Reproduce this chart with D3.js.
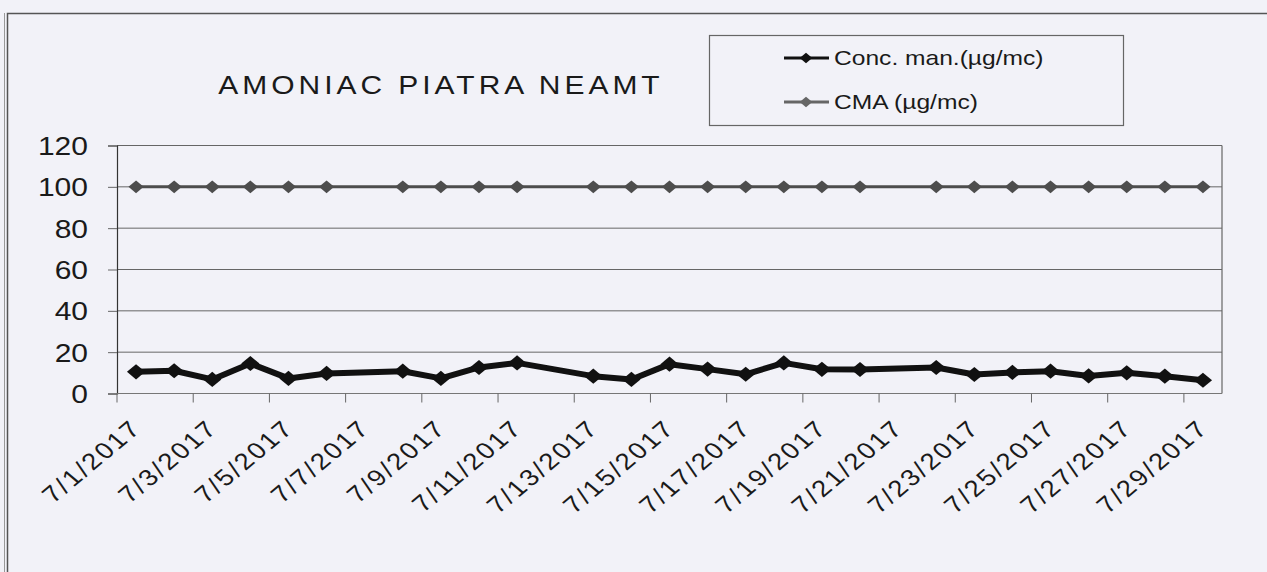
<!DOCTYPE html>
<html>
<head>
<meta charset="utf-8">
<script src="https://cdn.jsdelivr.net/npm/d3@7"></script>
<style>
  html, body { margin: 0; padding: 0; background: #f2f2f8; }
  svg text { font-family: "Liberation Sans", Arial, sans-serif; fill: #1a1a1a; }
</style>
</head>
<body>
<div id="chart"></div>
<script>
// DATA
const dates = [
  "7/1/2017", "7/2/2017", "7/3/2017", "7/4/2017", "7/5/2017", "7/6/2017", "7/7/2017",
  "7/8/2017", "7/9/2017", "7/10/2017", "7/11/2017", "7/12/2017", "7/13/2017", "7/14/2017",
  "7/15/2017", "7/16/2017", "7/17/2017", "7/18/2017", "7/19/2017", "7/20/2017", "7/21/2017",
  "7/22/2017", "7/23/2017", "7/24/2017", "7/25/2017", "7/26/2017", "7/27/2017", "7/28/2017",
  "7/29/2017"
];
const tickLabels = [
  "7/1/2017", "7/3/2017", "7/5/2017", "7/7/2017", "7/9/2017", "7/11/2017", "7/13/2017",
  "7/15/2017", "7/17/2017", "7/19/2017", "7/21/2017", "7/23/2017", "7/25/2017", "7/27/2017",
  "7/29/2017"
];
const measuredDates = [
  "7/1/2017", "7/2/2017", "7/3/2017", "7/4/2017", "7/5/2017", "7/6/2017",
  "7/8/2017", "7/9/2017", "7/10/2017", "7/11/2017", "7/13/2017", "7/14/2017",
  "7/15/2017", "7/16/2017", "7/17/2017", "7/18/2017", "7/19/2017", "7/20/2017",
  "7/22/2017", "7/23/2017", "7/24/2017", "7/25/2017", "7/26/2017", "7/27/2017",
  "7/28/2017", "7/29/2017"
];
const concValues = [
  10.5, 11, 6.8, 14.5, 7.3, 9.7,
  10.8, 7.3, 12.6, 14.8, 8.4, 6.8,
  14.2, 11.8, 9.3, 14.8, 11.7, 11.6,
  12.6, 9.2, 10.2, 10.8, 8.5, 10,
  8.4, 6.4
];
const cmaValues = [
  100, 100, 100, 100, 100, 100,
  100, 100, 100, 100, 100, 100,
  100, 100, 100, 100, 100, 100,
  100, 100, 100, 100, 100, 100,
  100, 100
];
const yTicks = [0, 20, 40, 60, 80, 100, 120];
const seriesNames = ["Conc. man.(\u00b5g/mc)", "CMA (\u00b5g/mc)"];
const title = "AMONIAC PIATRA NEAMT";

// LAYOUT
const W = 1267, H = 572;
const SX = 1.2; // the scan is stretched horizontally
const plot = { left: 117, right: 1222, top: 145.5, bottom: 393.5 };

const svg = d3.select("#chart").append("svg")
  .attr("width", W).attr("height", H);

svg.append("rect").attr("width", W).attr("height", H).attr("fill", "#f2f2f8");

// outer chart frame (double line on the left)
svg.append("rect")
  .attr("x", 7.5).attr("y", 13.5).attr("width", W + 20).attr("height", H + 20)
  .attr("fill", "none").attr("stroke", "#555").attr("stroke-width", 1.5);
svg.append("line")
  .attr("x1", 4.5).attr("x2", 4.5).attr("y1", 13).attr("y2", H)
  .attr("stroke", "#999").attr("stroke-width", 1);

const x = d3.scaleBand().domain(dates).range([plot.left, plot.right]);
const y = d3.scaleLinear().domain([0, 120]).range([plot.bottom, plot.top]);

// gridlines
svg.append("g")
  .selectAll("line")
  .data(yTicks.filter(d => d > 0))
  .enter()
  .append("line")
  .attr("x1", plot.left).attr("x2", plot.right)
  .attr("y1", d => y(d)).attr("y2", d => y(d))
  .attr("stroke", "#666").attr("stroke-width", 1);

// right border of plot area
svg.append("line")
  .attr("x1", plot.right).attr("x2", plot.right)
  .attr("y1", plot.top).attr("y2", plot.bottom)
  .attr("stroke", "#666").attr("stroke-width", 1.2);

// y axis
const yAxis = svg.append("g")
  .attr("transform", `translate(${plot.left},0)`)
  .call(d3.axisLeft(y).tickValues(yTicks).tickSize(9).tickFormat(d3.format("d")));
yAxis.select(".domain").attr("stroke", "#333").attr("stroke-width", 1.2);
yAxis.selectAll(".tick line").attr("stroke", "#666");
yAxis.selectAll(".tick text").remove();
yAxis.selectAll(".tick")
  .append("text")
  .attr("text-anchor", "end")
  .attr("dy", "0.36em")
  .attr("font-size", 25)
  .attr("transform", `translate(-29,0) scale(${SX},1)`)
  .text(d => d);

// x axis
const xAxis = svg.append("g")
  .attr("transform", `translate(0,${plot.bottom})`)
  .call(d3.axisBottom(x).tickValues(tickLabels).tickSize(9).tickFormat(""));
xAxis.select(".domain").attr("d", `M${plot.left},0H${plot.right}`)
  .attr("stroke", "#777").attr("stroke-width", 1.2);
xAxis.selectAll(".tick line")
  .attr("transform", `translate(${-x.bandwidth() / 2},0)`)
  .attr("stroke", "#666");
xAxis.selectAll(".tick")
  .append("text")
  .attr("text-anchor", "end")
  .attr("font-size", 23)
  .attr("letter-spacing", 2)
  .attr("transform", `translate(7,36) scale(${SX},1) rotate(-45)`)
  .text(d => d);

// series
const concData = measuredDates.map((d, i) => ({ date: d, value: concValues[i] }));
const cmaData = measuredDates.map((d, i) => ({ date: d, value: cmaValues[i] }));

const line = d3.line()
  .x(d => x(d.date) + x.bandwidth() / 2)
  .y(d => y(d.value));

const diamond = (size) => d3.symbol().type(d3.symbolSquare).size(size)();

function drawSeries(data, color, width, markerSize) {
  const g = svg.append("g");
  g.append("path")
    .datum(data)
    .attr("d", line)
    .attr("fill", "none")
    .attr("stroke", color)
    .attr("stroke-width", width)
    .attr("stroke-linejoin", "round");
  g.selectAll("path.marker")
    .data(data)
    .enter()
    .append("path")
    .attr("class", "marker")
    .attr("d", diamond(markerSize))
    .attr("transform", d =>
      `translate(${x(d.date) + x.bandwidth() / 2},${y(d.value)}) scale(${SX},1) rotate(45)`)
    .attr("fill", color);
}

drawSeries(cmaData, "#4d4d4d", 3, 80);
drawSeries(concData, "#111", 6, 115);

// title
svg.append("text")
  .attr("text-anchor", "middle")
  .attr("font-size", 25)
  .attr("letter-spacing", 3.3)
  .attr("transform", `translate(441,94) scale(${SX},1)`)
  .text(title);

// legend
const legend = svg.append("g");
legend.append("rect")
  .attr("x", 709.5).attr("y", 35.5).attr("width", 414).attr("height", 90)
  .attr("fill", "#f2f2f8").attr("stroke", "#666").attr("stroke-width", 1.2);

const legendColors = ["#111", "#666"];
const legendY = [58, 102];
const items = legend.selectAll("g.item")
  .data(seriesNames)
  .enter()
  .append("g")
  .attr("class", "item")
  .attr("transform", (d, i) => `translate(0,${legendY[i]})`);
items.append("line")
  .attr("x1", 784).attr("x2", 829)
  .attr("stroke", (d, i) => legendColors[i])
  .attr("stroke-width", 3);
items.append("path")
  .attr("d", diamond(55))
  .attr("transform", `translate(806,0) scale(${SX},1) rotate(45)`)
  .attr("fill", (d, i) => legendColors[i]);
items.append("text")
  .attr("font-size", 20.5)
  .attr("dy", "0.36em")
  .attr("transform", `translate(834,0) scale(${SX},1)`)
  .text(d => d);
</script>
</body>
</html>
